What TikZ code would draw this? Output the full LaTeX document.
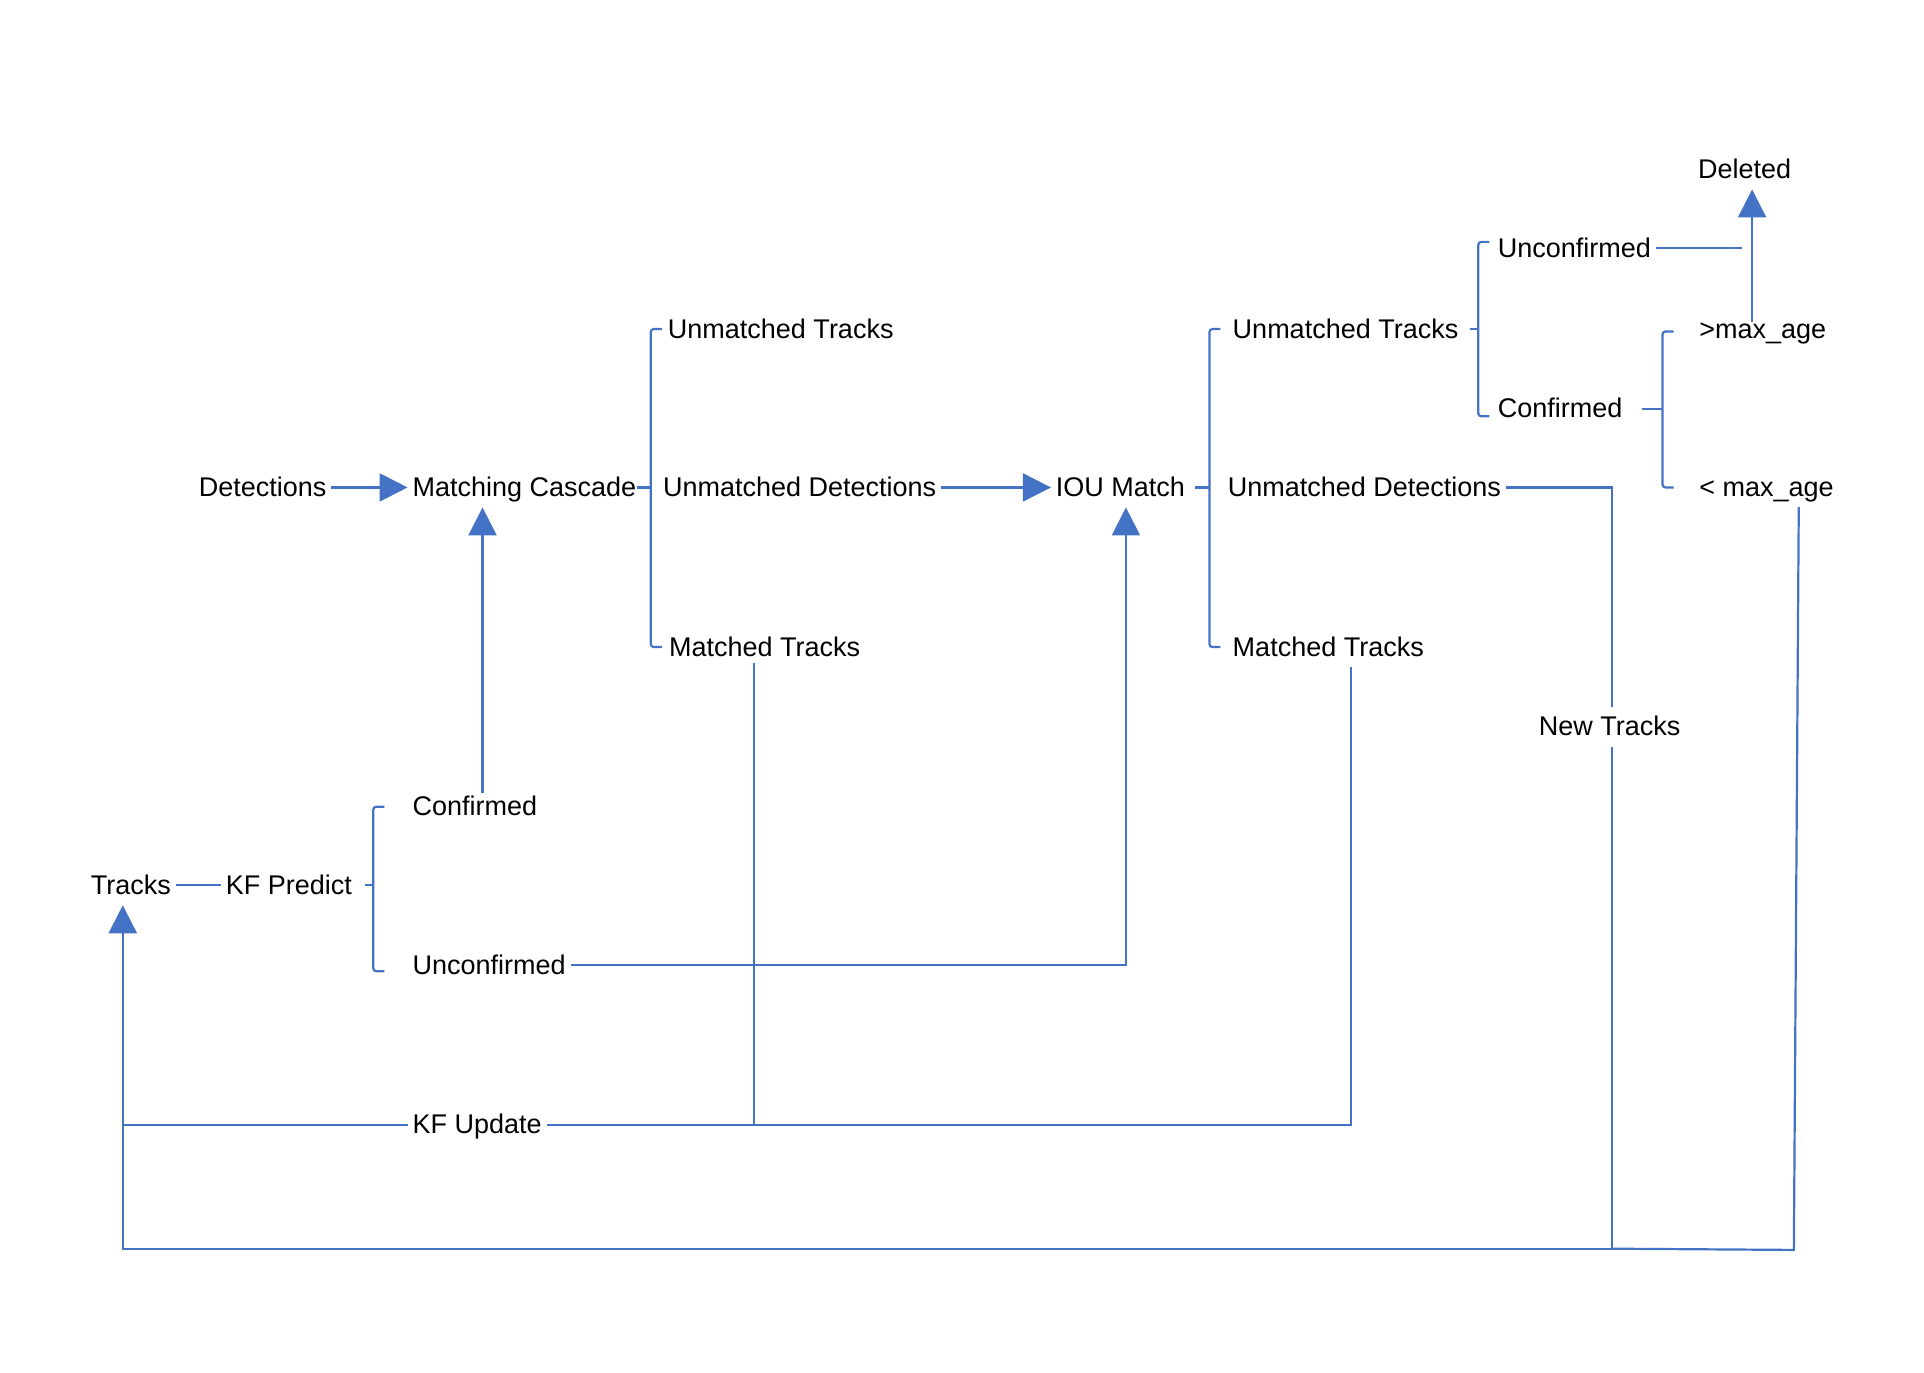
\documentclass[tikz,border=0pt]{standalone}
\usepackage{fontspec}
\setmainfont{Liberation Sans}
\usetikzlibrary{arrows.meta}
\definecolor{lineblue}{HTML}{4472C4}
\newcommand{\splitbrace}[5]{
	\draw [rounded corners=1.5pt] (#1+9,#2)--(#1,#2)--(#1,#3)--(#1+9,#3);
	\draw (#5,#4)--(#1,#4);
}

\begin{document}
\begin{tikzpicture}[x=0.6139pt,y=-0.6139pt,lineblue,line width=1.1pt,
	lbl/.style={inner sep=0pt,outer sep=2.5pt,xshift=-2.5pt,text height=12pt,text depth=3pt,anchor=west,text=black,font=\fontsize{13.5}{16}\selectfont},
	arr/.style={-{Triangle[length=14pt,width=14pt]}}]
\useasboundingbox (0,0) rectangle (1567,1118);

\node [lbl,anchor=center]	(deleted)	at (1425,138) {Deleted};
\node [lbl]	(unc2)	at (1220,202) {Unconfirmed};
\node [lbl]	(umt2)	at (1004,268) {Unmatched Tracks};
\node [lbl]	(conf2)	at (1220,333) {Confirmed};
\node [lbl]	(gtage)	at (1384,268) {>max\_age};
\node [lbl]	(ltage)	at (1384,397) {< max\_age};

\node [lbl]	(det)	at (162,397) {Detections};
\node [lbl]	(cascade)	at (336,397) {Matching Cascade};
\node [lbl]	(umt1)	at (544,268) {Unmatched Tracks};
\node [lbl]	(umd1)	at (540,397) {Unmatched Detections};
\node [lbl]	(mt1)	at (545,527) {Matched Tracks};
\node [lbl]	(iou)	at (860,397) {IOU Match};
\node [lbl]	(umd2)	at (1000,397) {Unmatched Detections};
\node [lbl]	(mt2)	at (1004,527) {Matched Tracks};
\node [lbl,anchor=center]	(newtr)	at (1315,592) {New Tracks};

\node [lbl]	(conf1)	at (336,657) {Confirmed};
\node [lbl]	(unc1)	at (336,786) {Unconfirmed};
\node [lbl]	(tracks)	at (74,721) {Tracks};
\node [lbl]	(kfp)	at (184,721) {KF Predict};
\node [lbl]	(kfu)	at (336,916) {KF Update};

\coordinate	(gtup)	at (1427,262);
\coordinate	(uncend)	at (1419,205);
\coordinate	(cup)	at (393,646);
\coordinate	(ioubend)	at (917,787);
\coordinate	(mt1down)	at (614,540);
\coordinate	(mt2down)	at (1100,543);
\coordinate	(updleft)	at (100,916);
\coordinate	(newbend)	at (1313,398);
\coordinate	(botright)	at (1313,1017);
\coordinate	(botleft)	at (100,1017);
\coordinate	(agetop)	at (1465,413);
\coordinate	(agebot)	at (1461,1018);

\splitbrace{304}{657}{791}{721}{297}
\splitbrace{530}{268}{527}{397}{519}
\splitbrace{985}{268}{527}{397}{973}
\splitbrace{1204}{197}{339}{268}{1197}
\splitbrace{1354}{270}{397}{333}{1337}

\draw [arr] (det.east)--(cascade.west);
\draw [arr] (umd1.east)--(iou.west);
\draw [arr] (cup)--(cup |- cascade.south);
\draw [arr] (unc1.east)--(unc1.east -| ioubend)--(ioubend |- iou.south);
\draw (tracks.east)--(kfp.west);
\draw [arr] (gtup)--(gtup |- deleted.south);
\draw (unc2.east)--(unc2.east -| uncend);

\draw (mt2down)--(mt2down |- kfu.east)--(kfu.east);
\draw (mt1down)--(mt1down |- kfu.east);
\draw (kfu.west)--(kfu.west -| updleft);

\draw (umd2.east)--(umd2.east -| newbend)--(newbend |- newtr.north);
\draw [arr] (newtr.south -| botright)--(botright)--(botleft)--(botleft |- tracks.south);
\draw (agetop)--(agebot)--(botright);
\end{tikzpicture}
\end{document}
